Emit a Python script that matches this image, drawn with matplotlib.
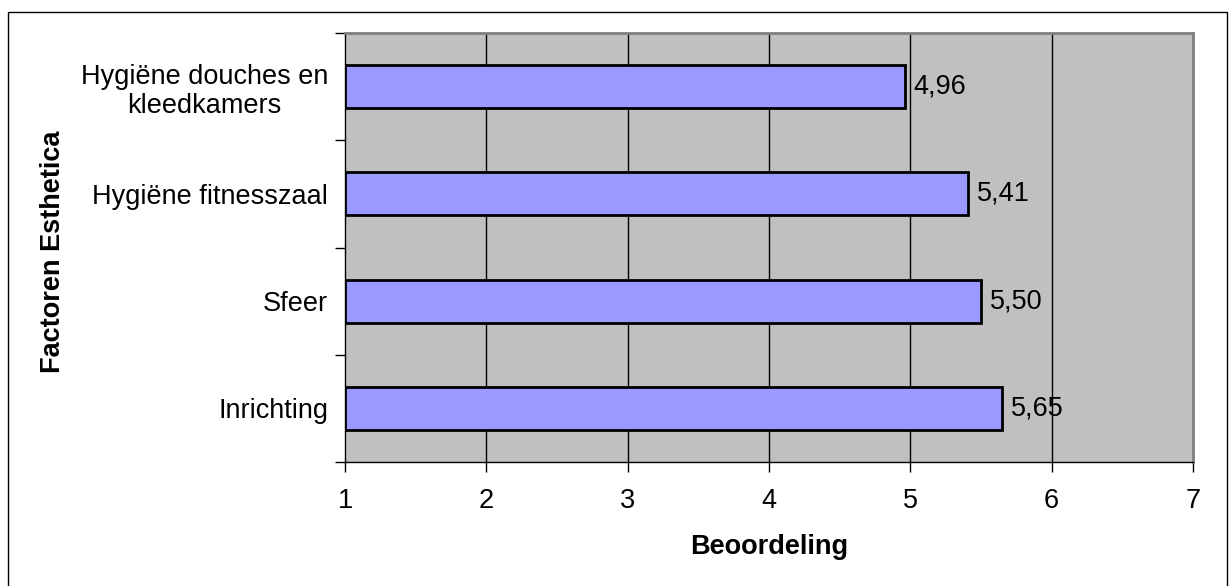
import matplotlib.pyplot as plt
from matplotlib.patches import Rectangle

plt.rcParams['font.family'] = ['Liberation Sans', 'DejaVu Sans']

# factoren van onder naar boven
factoren = ['Inrichting', 'Sfeer', 'Hygiëne fitnesszaal', 'Hygiëne douches en\nkleedkamers']
scores = [5.65, 5.50, 5.41, 4.96]
labels = ['5,65', '5,50', '5,41', '4,96']
x_ticks = [1, 2, 3, 4, 5, 6, 7]

fs = 19.5

fig = plt.figure(figsize=(12.29, 5.86), dpi=100)
fig.patches.append(Rectangle((8 / 1229, -0.05), 1219 / 1229, 1.05 - 12 / 586,
                             transform=fig.transFigure, fill=False,
                             edgecolor='black', lw=1))

ax = fig.add_axes([345 / 1229, 1 - 462 / 586, 848 / 1229, 429 / 586])
ax.set_facecolor('#C0C0C0')

pos = [i + 0.5 for i in range(len(factoren))]
ax.barh(pos, [s - 1 for s in scores], left=1, height=0.4,
        color='#9999FF', edgecolor='black', lw=2, zorder=3)
for p, s, lab in zip(pos, scores, labels):
    ax.text(s + 0.06, p, lab, va='center', ha='left', fontsize=fs, zorder=4)

ax.set_xlim(1, 7)
ax.set_ylim(0, 4)
ax.set_xticks(x_ticks)
ax.set_xticklabels([str(v) for v in x_ticks], fontsize=fs)
ax.tick_params(axis='x', direction='out', length=7, width=1, pad=12)
ax.set_yticks(pos)
ax.set_yticklabels(factoren, fontsize=fs, multialignment='center', linespacing=1.15)
ax.tick_params(axis='y', which='major', length=0, pad=12)
ax.set_yticks([0, 1, 2, 3, 4], minor=True)
ax.tick_params(axis='y', which='minor', direction='out', length=7, width=1)

for v in x_ticks[1:-1]:
    ax.axvline(v, color='black', lw=1, zorder=1)

for side in ['top', 'right']:
    ax.spines[side].set_color('#808080')
    ax.spines[side].set_linewidth(2)
for side in ['left', 'bottom']:
    ax.spines[side].set_color('black')
    ax.spines[side].set_linewidth(1)

ax.set_xlabel('Beoordeling', fontsize=fs, fontweight='bold', labelpad=14)
fig.text(53 / 1229, 1 - 252 / 586, 'Factoren Esthetica', rotation=90,
         fontsize=fs, fontweight='bold', ha='center', va='center')

fig.savefig('out.png', dpi=100)
